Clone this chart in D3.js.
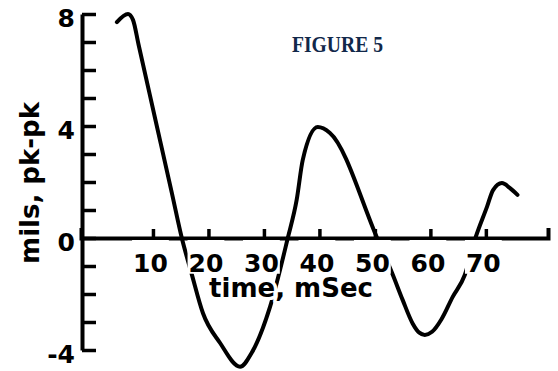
<!DOCTYPE html>
<html>
<head>
<meta charset="utf-8">
<script src="https://cdn.jsdelivr.net/npm/d3@7"></script>
<style>
  body { margin: 0; background: #fff; }
  .lbl { font-family: 'DejaVu Sans', sans-serif; font-weight: bold; fill: #000; }
  .halo { stroke: #fff; stroke-width: 7px; paint-order: stroke; stroke-linejoin: round; }
</style>
</head>
<body>
<div id="chart"></div>
<script>
// traced waveform, time in mSec, displacement in mils pk-pk
const times = [3.5, 5.5, 6.4, 7.4, 10.4, 13.4, 15.2, 17.0, 19.0, 22.1, 25.7, 27.8, 31.1, 34.3, 35.9, 37.0, 39.7, 41.9, 50.4, 53.1, 55.0, 56.8, 58.0, 59.0, 60.3, 62.0, 64.0, 66.2, 68.0, 70.2, 71.3, 72.9, 74.3, 75.7]
const mils = [7.71, 8.0, 7.79, 6.91, 4.26, 1.61, 0, -1.3, -2.68, -3.75, -4.6, -4.1, -2.46, 0, 1.36, 2.79, 3.96, 3.75, 0, -1.25, -2.21, -3.05, -3.38, -3.46, -3.35, -2.9, -2.11, -1.32, -0.07, 1.11, 1.71, 1.96, 1.79, 1.54]

const xTicks = [10, 20, 30, 40, 50, 60, 70]
const yTicks = [-4, -3, -2, -1, 0, 1, 2, 3, 4, 5, 6, 7, 8]
const yLabels = [8, 4, 0, -4]

const dimensions = { width: 558, height: 371 }

const svg = d3.select('#chart')
    .append('svg')
    .attr('width', dimensions.width)
    .attr('height', dimensions.height)

svg.append('rect')
    .attr('width', dimensions.width)
    .attr('height', dimensions.height)
    .attr('fill', '#fff')

const xScale = d3.scaleLinear()
    .domain([-2.97, 81.2])
    .range([81, 548])

const yScale = d3.scaleLinear()
    .domain([-4, 8])
    .range([350, 14])

const points = times.map((t, i) => [t, mils[i]])

const line = d3.line()
    .x(d => xScale(d[0]))
    .y(d => yScale(d[1]))
    .curve(d3.curveMonotoneX)

svg.append('path')
    .datum(points)
    .attr('d', line)
    .attr('fill', 'none')
    .attr('stroke', '#000')
    .attr('stroke-width', 4)
    .attr('stroke-linecap', 'round')
    .attr('stroke-linejoin', 'round')

const tickFont = 25
const xPad = 16

const xAxis = d3.axisBottom(xScale)
    .tickValues(xTicks)
    .tickSize(-9)
    .tickSizeOuter(-10)
    .tickPadding(xPad)

const yAxis = d3.axisLeft(yScale)
    .tickValues(yTicks)
    .tickSize(-14)
    .tickSizeOuter(0)
    .tickPadding(7)
    .tickFormat(d => yLabels.includes(d) ? d : '')

const xAxisGroup = svg.append('g')
    .attr('transform', `translate(0, ${yScale(0)})`)
    .call(xAxis)

const yAxisGroup = svg.append('g')
    .attr('transform', `translate(82, 0)`)
    .call(yAxis)

for (const g of [xAxisGroup, yAxisGroup]) {
    g.attr('font-family', null).attr('font-size', null)
    g.select('.domain').attr('stroke', '#000').attr('stroke-width', 4)
    g.selectAll('.tick line').attr('stroke', '#000').attr('stroke-width', 3.5)
    g.selectAll('.tick text')
        .attr('class', 'lbl')
        .style('font-size', tickFont + 'px')
}
xAxisGroup.selectAll('.tick text').attr('dx', -3)
yAxisGroup.selectAll('.tick text').attr('dy', '0.5em')

// white boxes behind the time labels, the trace is cut where it passes them
xAxisGroup.selectAll('.tick').each(function () {
    const text = d3.select(this).select('text')
    const box = text.node().getBBox()
    d3.select(this).insert('rect', 'text')
        .attr('x', box.x - 1)
        .attr('y', 2)
        .attr('width', box.width + 2)
        .attr('height', xPad + 0.71 * tickFont)
        .attr('fill', '#fff')
})

svg.append('text')
    .attr('class', 'lbl halo')
    .attr('x', 291)
    .attr('y', 297)
    .attr('text-anchor', 'middle')
    .style('font-size', '26px')
    .text('time, mSec')

svg.append('text')
    .attr('class', 'lbl')
    .attr('transform', 'translate(39, 183) rotate(-90)')
    .attr('text-anchor', 'middle')
    .style('font-size', '26px')
    .text('mils, pk-pk')

svg.append('text')
    .attr('x', 292)
    .attr('y', 52)
    .attr('textLength', 91)
    .attr('lengthAdjust', 'spacingAndGlyphs')
    .attr('font-family', "'Liberation Serif', serif")
    .attr('font-weight', 'bold')
    .attr('font-size', 23)
    .attr('fill', '#11284a')
    .text('FIGURE 5')
</script>
</body>
</html>
